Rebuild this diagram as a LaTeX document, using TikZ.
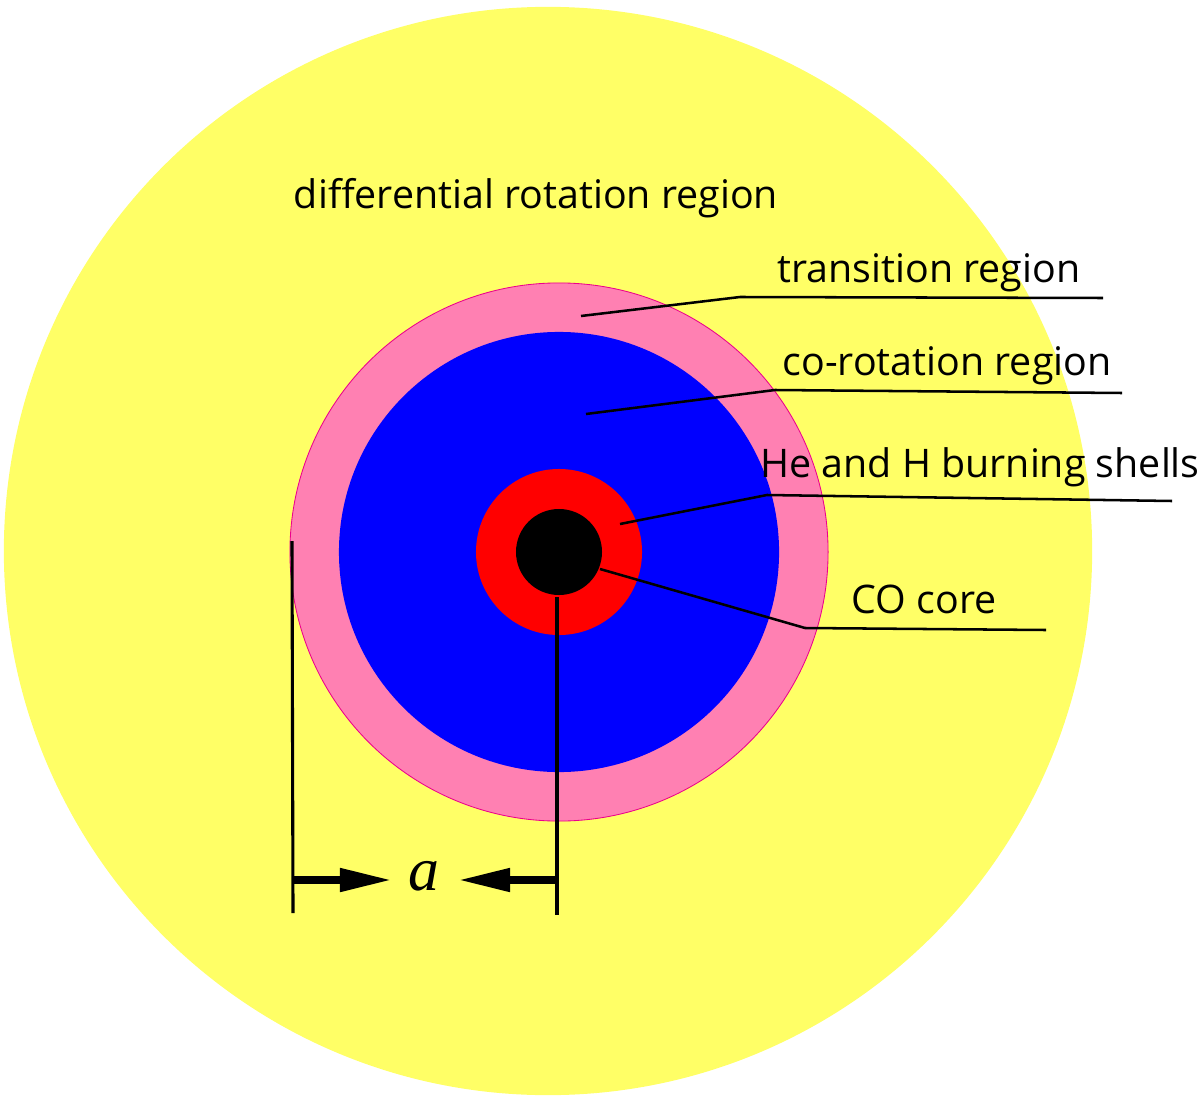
\documentclass[tikz,border=0pt]{standalone}
\usepackage{fontspec}
\setmainfont{Open Sans}
\newfontfamily\timesfont{Liberation Serif}
\usetikzlibrary{arrows.meta}
\definecolor{shellyellow}{RGB}{255,255,102}
\definecolor{shellpink}{RGB}{255,128,178}
\begin{document}
\begin{tikzpicture}[
    x=0.025cm, y=-0.025cm,
    regiontext/.style={font=\fontsize{28}{32}\selectfont, inner sep=0pt},
    leader/.style={line width=1.8pt},
    dimline/.style={line width=2.2pt},
    dimarrow/.style={line width=5.5pt, -{Triangle[length=1.3cm, width=0.55cm]}}
]
\useasboundingbox (0,0) rectangle (1200,1102);

% Shells
\coordinate (ctr) at (559,552);
\fill[shellyellow] (548,551) circle[radius=13.6cm];
\filldraw[fill=shellpink, draw=magenta, line width=0.6pt] (ctr) circle[radius=6.725cm];
\fill[blue] (ctr) circle[radius=5.5cm];
\fill[red] (ctr) circle[radius=2.075cm];
\fill[black] (ctr) circle[radius=1.075cm];

% Labels
\node[regiontext] (diffLbl) at (536,198) {differential rotation region};
\node[regiontext] (transLbl) at (929,273) {transition region};
\node[regiontext] (coLbl) at (947,366) {co-rotation region};
\node[regiontext] (shellLbl) at (980,467) {He and H burning shells};
\node[regiontext] (coreLbl) at (924,599) {CO core};

% Leader lines
\coordinate (transPt) at (581,316);
\coordinate (transKnee) at (740,297);
\coordinate (transEnd) at (1103,298);
\draw[leader] (transPt) -- (transKnee) -- (transEnd);

\coordinate (coPt) at (586,414);
\coordinate (coKnee) at (775,390);
\coordinate (coEnd) at (1122,393);
\draw[leader] (coPt) -- (coKnee) -- (coEnd);

\coordinate (shellPt) at (620,524);
\coordinate (shellKnee) at (767,495);
\coordinate (shellEnd) at (1172,501);
\draw[leader] (shellPt) -- (shellKnee) -- (shellEnd);

\coordinate (corePt) at (600,569);
\coordinate (coreKnee) at (805,628);
\coordinate (coreEnd) at (1046,630);
\draw[leader] (corePt) -- (coreKnee) -- (coreEnd);

% Dimension a
\coordinate (dimLtop) at (292,541);
\coordinate (dimLbot) at (293,913);
\coordinate (dimRtop) at (557,597);
\coordinate (dimRbot) at (557,915);
\draw[dimline] (dimLtop) -- (dimLbot);
\draw[dimline] (dimRtop) -- (dimRbot);
\node[font=\fontsize{44}{48}\selectfont\timesfont\itshape] (aLbl) at (424,876) {a};
\coordinate (arrLfrom) at (293,880);
\coordinate (arrLto) at (392,880);
\coordinate (arrRfrom) at (557,880);
\coordinate (arrRto) at (458,880);
\draw[dimarrow] (arrLfrom) -- (arrLto);
\draw[dimarrow] (arrRfrom) -- (arrRto);

\end{tikzpicture}
\end{document}
